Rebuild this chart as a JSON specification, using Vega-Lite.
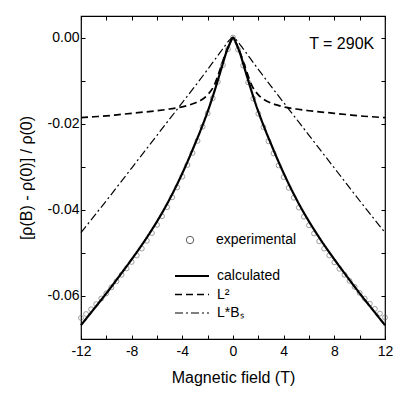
{
  "$schema": "https://vega.github.io/schema/vega-lite/v6.json",
  "width": 304,
  "height": 323,
  "autosize": "none",
  "padding": {"left": 81, "top": 16, "right": 30, "bottom": 62},
  "background": "white",
  "datasets": {
    "curves": [
      {"B": -12, "value": -0.0668, "model": "calculated"},
      {"B": -11, "value": -0.0631, "model": "calculated"},
      {"B": -10, "value": -0.0594, "model": "calculated"},
      {"B": -9, "value": -0.0555, "model": "calculated"},
      {"B": -8, "value": -0.0515, "model": "calculated"},
      {"B": -7, "value": -0.0473, "model": "calculated"},
      {"B": -6, "value": -0.0427, "model": "calculated"},
      {"B": -5.5, "value": -0.0402, "model": "calculated"},
      {"B": -5, "value": -0.0375, "model": "calculated"},
      {"B": -4.5, "value": -0.0346, "model": "calculated"},
      {"B": -4, "value": -0.0315, "model": "calculated"},
      {"B": -3.5, "value": -0.0282, "model": "calculated"},
      {"B": -3, "value": -0.0247, "model": "calculated"},
      {"B": -2.5, "value": -0.0211, "model": "calculated"},
      {"B": -2, "value": -0.0172, "model": "calculated"},
      {"B": -1.5, "value": -0.0128, "model": "calculated"},
      {"B": -1, "value": -0.0080, "model": "calculated"},
      {"B": -0.5, "value": -0.0032, "model": "calculated"},
      {"B": -0.25, "value": -0.0014, "model": "calculated"},
      {"B": 0, "value": 0.0, "model": "calculated"},
      {"B": 0.25, "value": -0.0014, "model": "calculated"},
      {"B": 0.5, "value": -0.0032, "model": "calculated"},
      {"B": 1, "value": -0.0080, "model": "calculated"},
      {"B": 1.5, "value": -0.0128, "model": "calculated"},
      {"B": 2, "value": -0.0172, "model": "calculated"},
      {"B": 2.5, "value": -0.0211, "model": "calculated"},
      {"B": 3, "value": -0.0247, "model": "calculated"},
      {"B": 3.5, "value": -0.0282, "model": "calculated"},
      {"B": 4, "value": -0.0315, "model": "calculated"},
      {"B": 4.5, "value": -0.0346, "model": "calculated"},
      {"B": 5, "value": -0.0375, "model": "calculated"},
      {"B": 5.5, "value": -0.0402, "model": "calculated"},
      {"B": 6, "value": -0.0427, "model": "calculated"},
      {"B": 7, "value": -0.0473, "model": "calculated"},
      {"B": 8, "value": -0.0515, "model": "calculated"},
      {"B": 9, "value": -0.0555, "model": "calculated"},
      {"B": 10, "value": -0.0594, "model": "calculated"},
      {"B": 11, "value": -0.0631, "model": "calculated"},
      {"B": 12, "value": -0.0668, "model": "calculated"},

      {"B": -12, "value": -0.0186, "model": "L²"},
      {"B": -11, "value": -0.0184, "model": "L²"},
      {"B": -10, "value": -0.0182, "model": "L²"},
      {"B": -9, "value": -0.0179, "model": "L²"},
      {"B": -8, "value": -0.0176, "model": "L²"},
      {"B": -7, "value": -0.0173, "model": "L²"},
      {"B": -6, "value": -0.0170, "model": "L²"},
      {"B": -5, "value": -0.0166, "model": "L²"},
      {"B": -4, "value": -0.0161, "model": "L²"},
      {"B": -3.5, "value": -0.0157, "model": "L²"},
      {"B": -3, "value": -0.0152, "model": "L²"},
      {"B": -2.5, "value": -0.0145, "model": "L²"},
      {"B": -2, "value": -0.0133, "model": "L²"},
      {"B": -1.5, "value": -0.0112, "model": "L²"},
      {"B": -1, "value": -0.0072, "model": "L²"},
      {"B": -0.75, "value": -0.0050, "model": "L²"},
      {"B": -0.5, "value": -0.0030, "model": "L²"},
      {"B": -0.25, "value": -0.0013, "model": "L²"},
      {"B": 0, "value": 0.0, "model": "L²"},
      {"B": 0.25, "value": -0.0013, "model": "L²"},
      {"B": 0.5, "value": -0.0030, "model": "L²"},
      {"B": 0.75, "value": -0.0050, "model": "L²"},
      {"B": 1, "value": -0.0072, "model": "L²"},
      {"B": 1.5, "value": -0.0112, "model": "L²"},
      {"B": 2, "value": -0.0133, "model": "L²"},
      {"B": 2.5, "value": -0.0145, "model": "L²"},
      {"B": 3, "value": -0.0152, "model": "L²"},
      {"B": 3.5, "value": -0.0157, "model": "L²"},
      {"B": 4, "value": -0.0161, "model": "L²"},
      {"B": 5, "value": -0.0166, "model": "L²"},
      {"B": 6, "value": -0.0170, "model": "L²"},
      {"B": 7, "value": -0.0173, "model": "L²"},
      {"B": 8, "value": -0.0176, "model": "L²"},
      {"B": 9, "value": -0.0179, "model": "L²"},
      {"B": 10, "value": -0.0182, "model": "L²"},
      {"B": 11, "value": -0.0184, "model": "L²"},
      {"B": 12, "value": -0.0186, "model": "L²"},

      {"B": -12, "value": -0.0453, "model": "L*Bₛ"},
      {"B": -11, "value": -0.0416, "model": "L*Bₛ"},
      {"B": -10, "value": -0.0379, "model": "L*Bₛ"},
      {"B": -9, "value": -0.0341, "model": "L*Bₛ"},
      {"B": -8, "value": -0.0303, "model": "L*Bₛ"},
      {"B": -7, "value": -0.0265, "model": "L*Bₛ"},
      {"B": -6, "value": -0.0227, "model": "L*Bₛ"},
      {"B": -5, "value": -0.0189, "model": "L*Bₛ"},
      {"B": -4, "value": -0.0151, "model": "L*Bₛ"},
      {"B": -3, "value": -0.0113, "model": "L*Bₛ"},
      {"B": -2, "value": -0.0074, "model": "L*Bₛ"},
      {"B": -1.5, "value": -0.0054, "model": "L*Bₛ"},
      {"B": -1, "value": -0.0034, "model": "L*Bₛ"},
      {"B": -0.75, "value": -0.0024, "model": "L*Bₛ"},
      {"B": -0.5, "value": -0.0014, "model": "L*Bₛ"},
      {"B": -0.25, "value": -0.0005, "model": "L*Bₛ"},
      {"B": 0, "value": 0.0, "model": "L*Bₛ"},
      {"B": 0.25, "value": -0.0005, "model": "L*Bₛ"},
      {"B": 0.5, "value": -0.0014, "model": "L*Bₛ"},
      {"B": 0.75, "value": -0.0024, "model": "L*Bₛ"},
      {"B": 1, "value": -0.0034, "model": "L*Bₛ"},
      {"B": 1.5, "value": -0.0054, "model": "L*Bₛ"},
      {"B": 2, "value": -0.0074, "model": "L*Bₛ"},
      {"B": 3, "value": -0.0113, "model": "L*Bₛ"},
      {"B": 4, "value": -0.0151, "model": "L*Bₛ"},
      {"B": 5, "value": -0.0189, "model": "L*Bₛ"},
      {"B": 6, "value": -0.0227, "model": "L*Bₛ"},
      {"B": 7, "value": -0.0265, "model": "L*Bₛ"},
      {"B": 8, "value": -0.0303, "model": "L*Bₛ"},
      {"B": 9, "value": -0.0341, "model": "L*Bₛ"},
      {"B": 10, "value": -0.0379, "model": "L*Bₛ"},
      {"B": 11, "value": -0.0416, "model": "L*Bₛ"},
      {"B": 12, "value": -0.0453, "model": "L*Bₛ"}
    ],
    "experimental": [
      {"B": -12.0, "value": -0.0651},
      {"B": -11.6, "value": -0.0642},
      {"B": -11.2, "value": -0.0631},
      {"B": -10.8, "value": -0.0619},
      {"B": -10.4, "value": -0.0606},
      {"B": -10.0, "value": -0.0594},
      {"B": -9.6, "value": -0.0580},
      {"B": -9.2, "value": -0.0566},
      {"B": -8.8, "value": -0.0551},
      {"B": -8.4, "value": -0.0536},
      {"B": -8.0, "value": -0.0521},
      {"B": -7.6, "value": -0.0506},
      {"B": -7.2, "value": -0.0490},
      {"B": -6.8, "value": -0.0472},
      {"B": -6.4, "value": -0.0454},
      {"B": -6.0, "value": -0.0435},
      {"B": -5.6, "value": -0.0415},
      {"B": -5.2, "value": -0.0394},
      {"B": -4.8, "value": -0.0371},
      {"B": -4.4, "value": -0.0348},
      {"B": -4.0, "value": -0.0323},
      {"B": -3.6, "value": -0.0296},
      {"B": -3.2, "value": -0.0268},
      {"B": -2.8, "value": -0.0240},
      {"B": -2.4, "value": -0.0207},
      {"B": -2.0, "value": -0.0176},
      {"B": -1.6, "value": -0.0141},
      {"B": -1.2, "value": -0.0103},
      {"B": -0.8, "value": -0.0064},
      {"B": -0.4, "value": -0.0027},
      {"B": 0.0, "value": 0.0},
      {"B": 0.4, "value": -0.0028},
      {"B": 0.8, "value": -0.0065},
      {"B": 1.2, "value": -0.0104},
      {"B": 1.6, "value": -0.0142},
      {"B": 2.0, "value": -0.0177},
      {"B": 2.4, "value": -0.0208},
      {"B": 2.8, "value": -0.0241},
      {"B": 3.2, "value": -0.0269},
      {"B": 3.6, "value": -0.0297},
      {"B": 4.0, "value": -0.0324},
      {"B": 4.4, "value": -0.0349},
      {"B": 4.8, "value": -0.0372},
      {"B": 5.2, "value": -0.0395},
      {"B": 5.6, "value": -0.0416},
      {"B": 6.0, "value": -0.0436},
      {"B": 6.4, "value": -0.0455},
      {"B": 6.8, "value": -0.0473},
      {"B": 7.2, "value": -0.0490},
      {"B": 7.6, "value": -0.0506},
      {"B": 8.0, "value": -0.0522},
      {"B": 8.4, "value": -0.0537},
      {"B": 8.8, "value": -0.0551},
      {"B": 9.2, "value": -0.0565},
      {"B": 9.6, "value": -0.0579},
      {"B": 10.0, "value": -0.0593},
      {"B": 10.4, "value": -0.0606},
      {"B": 10.8, "value": -0.0618},
      {"B": 11.2, "value": -0.0630},
      {"B": 11.6, "value": -0.0641},
      {"B": 12.0, "value": -0.0650}
    ]
  },
  "layer": [
    {
      "data": {"name": "experimental"},
      "mark": {"type": "point", "shape": "circle", "filled": false, "stroke": "#555", "strokeWidth": 0.8, "size": 24},
      "encoding": {
        "x": {"field": "B", "type": "quantitative", "axis": null},
        "y": {"field": "value", "type": "quantitative", "axis": null},
        "shape": {
          "datum": "experimental",
          "scale": {"domain": ["experimental"], "range": ["circle"]},
          "legend": {
            "orient": "none", "legendX": 102, "legendY": 217, "title": null,
            "symbolSize": 55, "symbolFillColor": "transparent", "symbolStrokeColor": "black",
            "symbolStrokeWidth": 0.9, "labelOffset": 19
          }
        }
      }
    },
    {
      "data": {"name": "curves"},
      "mark": {"type": "line", "color": "black", "interpolate": "monotone"},
      "encoding": {
        "x": {
          "field": "B", "type": "quantitative",
          "scale": {"domain": [-12, 12], "nice": false, "zero": false},
          "axis": {
            "orient": "bottom", "title": "Magnetic field (T)",
            "values": [-12, -10, -8, -6, -4, -2, 0, 2, 4, 6, 8, 10, 12],
            "labelExpr": "datum.value % 4 == 0 ? replace(datum.label, '\u2212', '-') : ''",
            "labelPadding": 9, "titlePadding": 11
          }
        },
        "y": {
          "field": "value", "type": "quantitative",
          "scale": {"domain": [-0.07, 0.005], "nice": false, "zero": false},
          "axis": {
            "orient": "left", "title": "[ρ(B) - ρ(0)] / ρ(0)",
            "values": [0, -0.01, -0.02, -0.03, -0.04, -0.05, -0.06],
            "labelExpr": "round(datum.value * 100) % 2 == 0 ? replace(format(datum.value, '.2f'), '\u2212', '-') : ''",
            "labelPadding": 6, "titlePadding": 13
          }
        },
        "strokeDash": {
          "field": "model", "type": "nominal",
          "scale": {"domain": ["calculated", "L²", "L*Bₛ"], "range": [[1, 0], [7, 4], [8, 3, 2, 3]]},
          "legend": {
            "orient": "none", "legendX": 104, "legendY": 253, "title": null,
            "symbolType": "M-3.4,0H3.4", "symbolSize": 100, "symbolStrokeColor": "black",
            "labelOffset": 18, "rowPadding": 4.5
          }
        },
        "strokeWidth": {
          "field": "model", "type": "nominal",
          "scale": {"domain": ["calculated", "L²", "L*Bₛ"], "range": [2.2, 1.2, 1.2]},
          "legend": {
            "orient": "none", "legendX": 104, "legendY": 253, "title": null,
            "symbolType": "M-3.4,0H3.4", "symbolSize": 100, "symbolStrokeColor": "black",
            "labelOffset": 18, "rowPadding": 4.5
          }
        }
      }
    },
    {
      "data": {"name": "experimental"},
      "mark": {"type": "point", "opacity": 0},
      "encoding": {
        "x": {
          "field": "B", "type": "quantitative",
          "axis": {"orient": "top", "title": null, "labels": false,
                   "values": [-12, -10, -8, -6, -4, -2, 0, 2, 4, 6, 8, 10, 12]}
        },
        "y": {
          "field": "value", "type": "quantitative",
          "axis": {"orient": "right", "title": null, "labels": false,
                   "values": [0, -0.01, -0.02, -0.03, -0.04, -0.05, -0.06]}
        }
      }
    },
    {
      "data": {"values": [{"label": "T = 290K"}]},
      "mark": {"type": "text", "align": "right", "baseline": "middle", "fontSize": 16, "font": "Liberation Sans", "color": "black"},
      "encoding": {
        "x": {"datum": 11.15, "type": "quantitative", "axis": null},
        "y": {"datum": -0.00145, "type": "quantitative", "axis": null},
        "text": {"field": "label"}
      }
    }
  ],
  "resolve": {"axis": {"x": "independent", "y": "independent"}},
  "config": {
    "font": "Liberation Sans",
    "view": {"stroke": "black", "strokeWidth": 1.2},
    "axis": {
      "grid": false, "domain": false, "tickColor": "black", "tickWidth": 1, "tickSize": -4,
      "labelFont": "Liberation Sans", "labelFontSize": 14, "labelColor": "black",
      "titleFont": "Liberation Sans", "titleFontSize": 16, "titleFontWeight": "normal", "titleColor": "black",
      "labelFlush": false, "labelOverlap": false, "labelBound": false
    },
    "legend": {
      "padding": 0, "labelFont": "Liberation Sans", "labelFontSize": 14, "labelColor": "black"
    }
  }
}
